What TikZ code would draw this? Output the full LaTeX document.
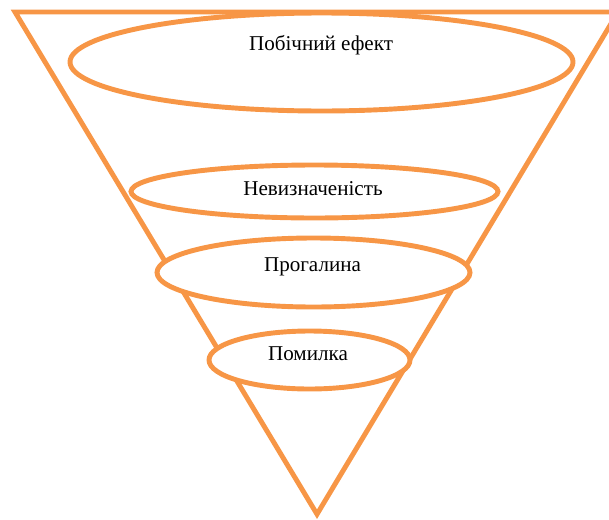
\documentclass[tikz,border=0pt]{standalone}
\usepackage{fontspec}
\setmainfont{Liberation Serif}
\usepackage{tikz}
\usetikzlibrary{positioning,calc}

\definecolor{funnelorange}{HTML}{F79646}

\begin{document}
\begin{tikzpicture}[
    funnel/.style={draw=funnelorange, line width=3.5pt},
    layer/.style={draw=funnelorange, fill=white, line width=3.5pt},
    label/.style={font=\fontsize{15}{18}\selectfont, inner sep=0pt}
  ]
        \useasboundingbox (0,0) rectangle (15.225,12.975);

        % Define points
        \coordinate (tl) at (0.375, 12.675);
        \coordinate (tr) at (15.45, 12.675);
        \coordinate (apex) at (7.925, 0.12);

        \coordinate (side) at (8.0375, 11.425);
        \coordinate (unc) at (7.8625, 8.1875);
        \coordinate (gap) at (7.8375, 6.1625);
        \coordinate (err) at (7.7375, 3.975);

        % Draw funnel
        \draw[funnel, line join=miter] (tl) -- (tr) -- (apex) -- cycle;

        % Draw layers
        \filldraw[layer] (side) ellipse (6.2875cm and 1.225cm);
        \filldraw[layer] (unc) ellipse (4.5875cm and 0.6625cm);
        \filldraw[layer] (gap) ellipse (3.9125cm and 0.8625cm);
        \filldraw[layer] (err) ellipse (2.5125cm and 0.725cm);

        % Label the layers
        \node[label] (sidetext) at (8.025, 11.85) {Побічний ефект};
        \node[label] (unctext) at (7.825, 8.25) {Невизначеність};
        \node[label] (gaptext) at (7.8125, 6.3) {Прогалина};
        \node[label] (errtext) at (7.7, 4.125) {Помилка};
    \end{tikzpicture}
\end{document}
